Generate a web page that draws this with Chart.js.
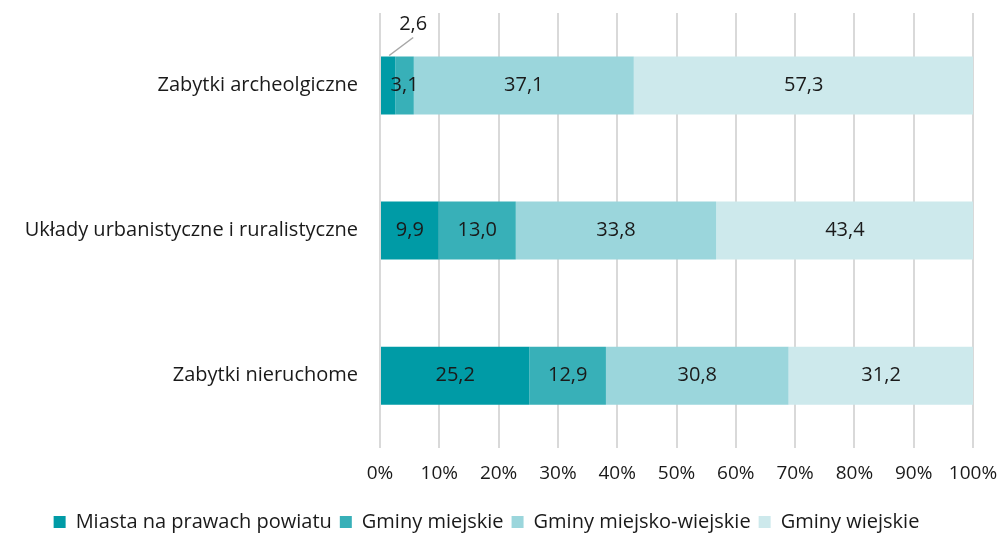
<!DOCTYPE html>
<html>
<head>
<meta charset="utf-8">
<script src="https://cdn.jsdelivr.net/npm/chart.js@4"></script>
<style>
  html, body { margin: 0; padding: 0; background: #fff; }
  #wrap { width: 1001px; height: 534px; }
</style>
</head>
<body>
<div id="wrap"><canvas id="chart" width="1001" height="534"></canvas></div>
<script>
const categories = ['Zabytki archeolgiczne', 'Układy urbanistyczne i ruralistyczne', 'Zabytki nieruchome'];
const seriesNames = ['Miasta na prawach powiatu', 'Gminy miejskie', 'Gminy miejsko-wiejskie', 'Gminy wiejskie'];
const miastaPowiat = [2.6, 9.9, 25.2];
const gminyMiejskie = [3.1, 13.0, 12.9];
const gminyMiejskoWiejskie = [37.1, 33.8, 30.8];
const gminyWiejskie = [57.3, 43.4, 31.2];
const colors = ['#009ba6', '#38b0b8', '#9bd6dc', '#cde9ec'];

const FONT = "'Open Sans', 'Noto Sans', sans-serif";

// value labels inside bars, small ones go above with a leader line
const barLabels = {
  id: 'barLabels',
  afterDatasetsDraw(chart) {
    const ctx = chart.ctx;
    ctx.save();
    ctx.font = '20px ' + FONT;
    ctx.fillStyle = '#1a1a1a';
    ctx.textAlign = 'center';
    ctx.textBaseline = 'middle';
    chart.data.datasets.forEach((ds, i) => {
      chart.getDatasetMeta(i).data.forEach((bar, j) => {
        const v = ds.data[j];
        const txt = v.toFixed(1).replace('.', ',');
        const cx = (bar.x + bar.base) / 2;
        if (v < 3) {
          const top = bar.y - bar.height / 2;
          ctx.strokeStyle = '#a6a6a6';
          ctx.lineWidth = 1.5;
          ctx.beginPath();
          ctx.moveTo(cx + 1, top - 1);
          ctx.lineTo(cx + 25, top - 19);
          ctx.stroke();
          ctx.fillText(txt, cx + 25, top - 32);
        } else {
          ctx.fillText(txt, cx, bar.y);
        }
      });
    });
    ctx.restore();
  }
};

new Chart(document.getElementById('chart').getContext('2d'), {
  type: 'bar',
  data: {
    labels: categories,
    datasets: [miastaPowiat, gminyMiejskie, gminyMiejskoWiejskie, gminyWiejskie].map((d, i) => ({
      label: seriesNames[i],
      data: d,
      backgroundColor: colors[i],
      borderWidth: 0,
      barPercentage: 0.8,
      categoryPercentage: 0.5
    }))
  },
  options: {
    indexAxis: 'y',
    responsive: false,
    animation: false,
    layout: { padding: { top: 13, right: 28, bottom: -8, left: 0 } },
    plugins: {
      legend: {
        position: 'bottom',
        labels: {
          boxWidth: 12,
          boxHeight: 12,
          padding: 8,
          color: '#1a1a1a',
          font: { family: FONT, size: 20 }
        }
      },
      tooltip: { enabled: false }
    },
    scales: {
      x: {
        stacked: true,
        min: 0,
        max: 100,
        afterFit: (scale) => {
          scale.paddingRight = 0;
          scale.height += 5;
        },
        ticks: {
          stepSize: 10,
          padding: 14,
          color: '#1a1a1a',
          font: { family: FONT, size: 19 },
          callback: (v) => v + '%'
        },
        grid: { color: '#d9d9d9', lineWidth: 2, drawTicks: false },
        border: { display: false }
      },
      y: {
        stacked: true,
        afterFit: (scale) => {
          scale.width = 380;
          scale.paddingTop = 0;
          scale.paddingBottom = 0;
        },
        ticks: {
          padding: 14,
          color: '#1a1a1a',
          font: { family: FONT, size: 20 }
        },
        grid: { display: false },
        border: { display: false }
      }
    }
  },
  plugins: [barLabels]
});
</script>
</body>
</html>
